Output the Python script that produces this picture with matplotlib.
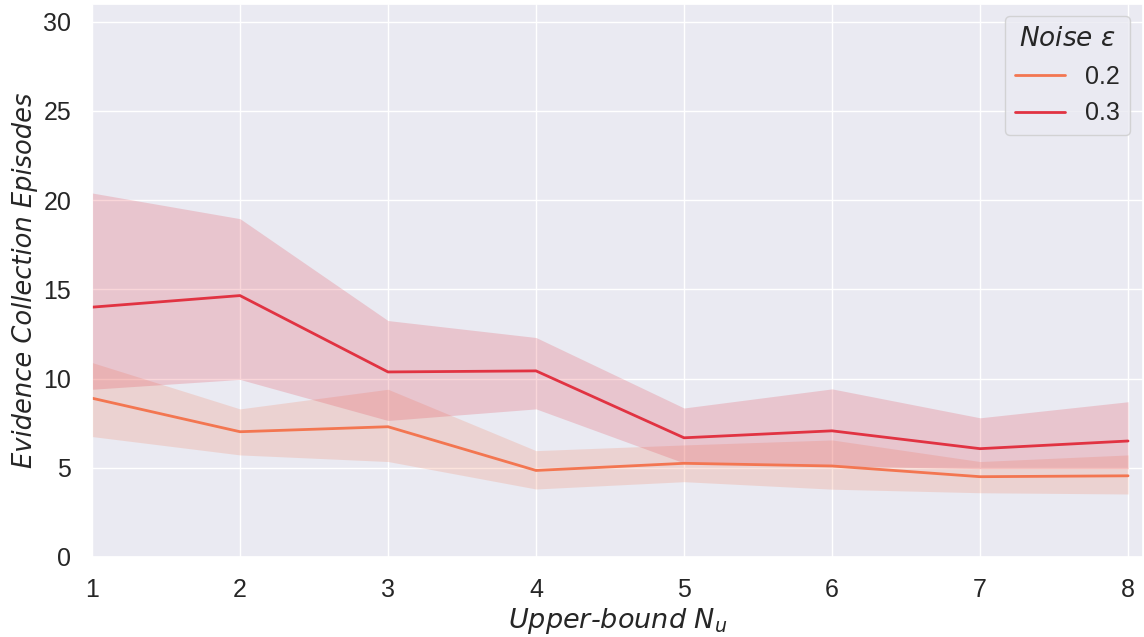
import matplotlib
matplotlib.use("Agg")
import matplotlib.pyplot as plt
import seaborn as sns
import numpy as np

sns.set_theme(style="darkgrid")
plt.rcParams['font.family'] = ['Liberation Sans', 'DejaVu Sans']

# data
x = [1, 2, 3, 4, 5, 6, 7, 8]

mean_02 = [8.9, 7.02, 7.3, 4.85, 5.25, 5.1, 4.5, 4.55]
low_02 = [6.75, 5.72, 5.35, 3.81, 4.22, 3.8, 3.6, 3.53]
high_02 = [10.9, 8.3, 9.4, 5.96, 6.28, 6.56, 5.35, 5.72]

mean_03 = [14.0, 14.65, 10.37, 10.43, 6.68, 7.07, 6.07, 6.5]
low_03 = [9.4, 9.95, 7.65, 8.3, 5.27, 5.1, 4.95, 4.95]
high_03 = [20.4, 18.96, 13.25, 12.3, 8.35, 9.42, 7.8, 8.7]

series = [("0.2", mean_02, low_02, high_02, "#f37651"),
          ("0.3", mean_03, low_03, high_03, "#e13342")]

fig, ax = plt.subplots(figsize=(11.44, 6.37), dpi=100)
fig.subplots_adjust(left=0.0804, right=0.999, top=0.994, bottom=0.1256)

for name, m, lo, hi, c in series:
    ax.fill_between(x, lo, hi, color=c, alpha=0.2, linewidth=0)
    ax.plot(x, m, color=c, linewidth=2, label=name)

ax.set_xlim(1, 8.1)
ax.set_ylim(0, 31)
ax.set_xticks(x)
ax.set_yticks(np.arange(0, 31, 5))
ax.tick_params(axis='both', labelsize=18, pad=9)

ax.set_xlabel("Upper-bound $N_u$", labelpad=3, fontsize=19.5, style='italic', family='DejaVu Sans')
ax.set_ylabel("Evidence Collection Episodes", labelpad=4, fontsize=18.5, style='italic', family='DejaVu Sans')

leg = ax.legend(title="Noise $\\epsilon$", loc="upper right", fontsize=18,
                title_fontproperties={'size': 19, 'style': 'italic', 'family': 'DejaVu Sans'})

fig.savefig("out.png", dpi=100)
